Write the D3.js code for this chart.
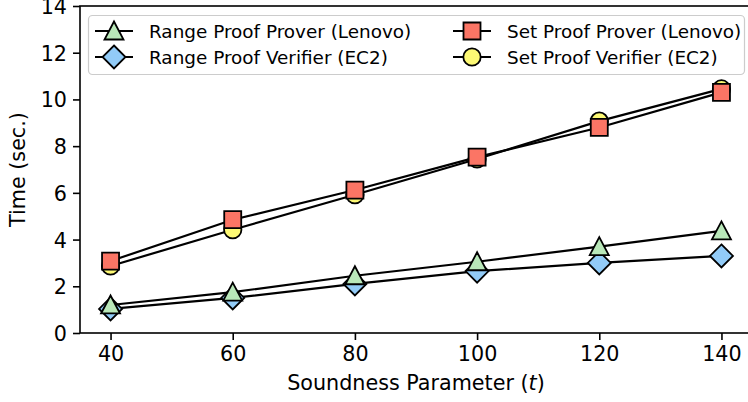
<!DOCTYPE html>
<html lang="en">
<head>
    <meta charset="utf-8">
    <title>Time vs Soundness Parameter</title>
    <script type="text/javascript" src="https://d3js.org/d3.v7.min.js"></script>
    <style>
        body { margin: 0; background: #fff; }
        svg text { font-family: "DejaVu Sans", sans-serif; fill: #000; }
    </style>
</head>
<body>
    <div id="chart"></div>

    <script type="text/javascript">

        // Soundness parameter values (x)
        var params = [40, 60, 80, 100, 120, 140];

        // Times in seconds
        var rangeProver = [1.2, 1.75, 2.45, 3.05, 3.7, 4.37];
        var rangeVerifier = [1.03, 1.5, 2.1, 2.65, 3.0, 3.3];
        var setProver = [3.08, 4.85, 6.12, 7.53, 8.8, 10.3];
        var setVerifier = [2.87, 4.42, 5.92, 7.45, 9.07, 10.45];

        var seriesNames = ["Range Proof Prover (Lenovo)", "Range Proof Verifier (EC2)",
                           "Set Proof Prover (Lenovo)", "Set Proof Verifier (EC2)"];

        var xTicks = [40, 60, 80, 100, 120, 140];
        var yTicks = [0, 2, 4, 6, 8, 10, 12, 14];

        var series = [
            { name: seriesNames[0], values: rangeProver, marker: "triangle", color: "#b9e8b9" },
            { name: seriesNames[1], values: rangeVerifier, marker: "diamond", color: "#92cbf7" },
            { name: seriesNames[2], values: setProver, marker: "square", color: "#fb7565" },
            { name: seriesNames[3], values: setVerifier, marker: "circle", color: "#fdf974" }
        ];

        var width = 748, height = 402;
        var margin = { left: 80, top: 6, right: -4, bottom: 69 };

        var svg = d3.select("#chart").append("svg")
            .attr("width", width)
            .attr("height", height);

        var x = d3.scaleLinear()
            .domain([35, 145])
            .range([margin.left, width - margin.right]);

        var y = d3.scaleLinear()
            .domain([0, 14])
            .range([height - margin.bottom, margin.top]);

        // marker shapes, centred on the point
        function markerPath(type) {
            if (type === "triangle") return "M0,-9.5L9.5,8.5L-9.5,8.5Z";
            if (type === "diamond") return "M0,-11.5L11.5,0L0,11.5L-11.5,0Z";
            if (type === "square") return "M-8.5,-8.5L8.5,-8.5L8.5,8.5L-8.5,8.5Z";
            return d3.symbol().type(d3.symbolCircle).size(Math.PI * 8.7 * 8.7)();
        }

        // axes
        var xAxis = svg.append("g")
            .attr("transform", "translate(0," + y(0) + ")")
            .call(d3.axisBottom(x).tickValues(xTicks).tickSize(7).tickPadding(6).tickSizeOuter(0));

        var yAxis = svg.append("g")
            .attr("transform", "translate(" + x(35) + ",0)")
            .call(d3.axisLeft(y).tickValues(yTicks).tickSize(7).tickPadding(6).tickSizeOuter(0));

        [xAxis, yAxis].forEach(function(a) {
            a.select(".domain").remove();
            a.selectAll(".tick line").attr("stroke", "#000").attr("stroke-width", 1.6);
            a.selectAll(".tick text").style("font-size", "20.7px");
        });
        xAxis.selectAll(".tick text").attr("dy", "0.72em");
        yAxis.selectAll(".tick text").attr("dy", "0.36em");

        // plot frame
        svg.append("rect")
            .attr("x", x(35))
            .attr("y", y(14))
            .attr("width", x(145) - x(35))
            .attr("height", y(0) - y(14))
            .attr("fill", "none")
            .attr("stroke", "#000")
            .attr("stroke-width", 1.6);

        // axis labels
        var xl = svg.append("text")
            .attr("x", (x(35) + x(145)) / 2)
            .attr("y", 390)
            .attr("text-anchor", "middle")
            .style("font-size", "20.7px");
        xl.append("tspan").text("Soundness Parameter (");
        xl.append("tspan").style("font-style", "italic").text("t");
        xl.append("tspan").text(")");

        svg.append("text")
            .attr("transform", "translate(25," + ((y(0) + y(14)) / 2) + ") rotate(-90)")
            .attr("text-anchor", "middle")
            .style("font-size", "20.7px")
            .text("Time (sec.)");

        var line = d3.line()
            .x(function(d, i) { return x(params[i]); })
            .y(function(d) { return y(d); });

        // verifiers drawn first, provers on top
        var drawOrder = [series[1], series[0], series[3], series[2]];
        drawOrder.forEach(function(s) {
            var g = svg.append("g");
            g.append("path")
                .datum(s.values)
                .attr("d", line)
                .attr("fill", "none")
                .attr("stroke", "#000")
                .attr("stroke-width", 2.2);
            g.selectAll("path.mk")
                .data(s.values)
                .enter()
                .append("path")
                .attr("class", "mk")
                .attr("d", markerPath(s.marker))
                .attr("transform", function(d, i) { return "translate(" + x(params[i]) + "," + y(d) + ")"; })
                .attr("fill", s.color)
                .attr("stroke", "#000")
                .attr("stroke-width", 1.8);
        });

        // legend, two columns
        var legend = svg.append("g");
        legend.append("rect")
            .attr("x", 88.5)
            .attr("y", 15.5)
            .attr("width", 656)
            .attr("height", 59)
            .attr("rx", 4)
            .attr("fill", "#fff")
            .attr("fill-opacity", 0.8)
            .attr("stroke", "#cccccc")
            .attr("stroke-width", 1.2);

        var colX = [95, 453];
        var rowY = [31, 57];
        series.forEach(function(s, i) {
            var cx = colX[Math.floor(i / 2)];
            var cy = rowY[i % 2];
            var item = legend.append("g");
            item.append("line")
                .attr("x1", cx).attr("x2", cx + 38)
                .attr("y1", cy).attr("y2", cy)
                .attr("stroke", "#000")
                .attr("stroke-width", 2.2);
            item.append("path")
                .attr("d", markerPath(s.marker))
                .attr("transform", "translate(" + (cx + 19) + "," + cy + ")")
                .attr("fill", s.color)
                .attr("stroke", "#000")
                .attr("stroke-width", 1.8);
            item.append("text")
                .attr("x", cx + 54)
                .attr("y", cy)
                .attr("dy", "0.36em")
                .style("font-size", "18.4px")
                .text(s.name);
        });

    </script>
</body>
</html>
